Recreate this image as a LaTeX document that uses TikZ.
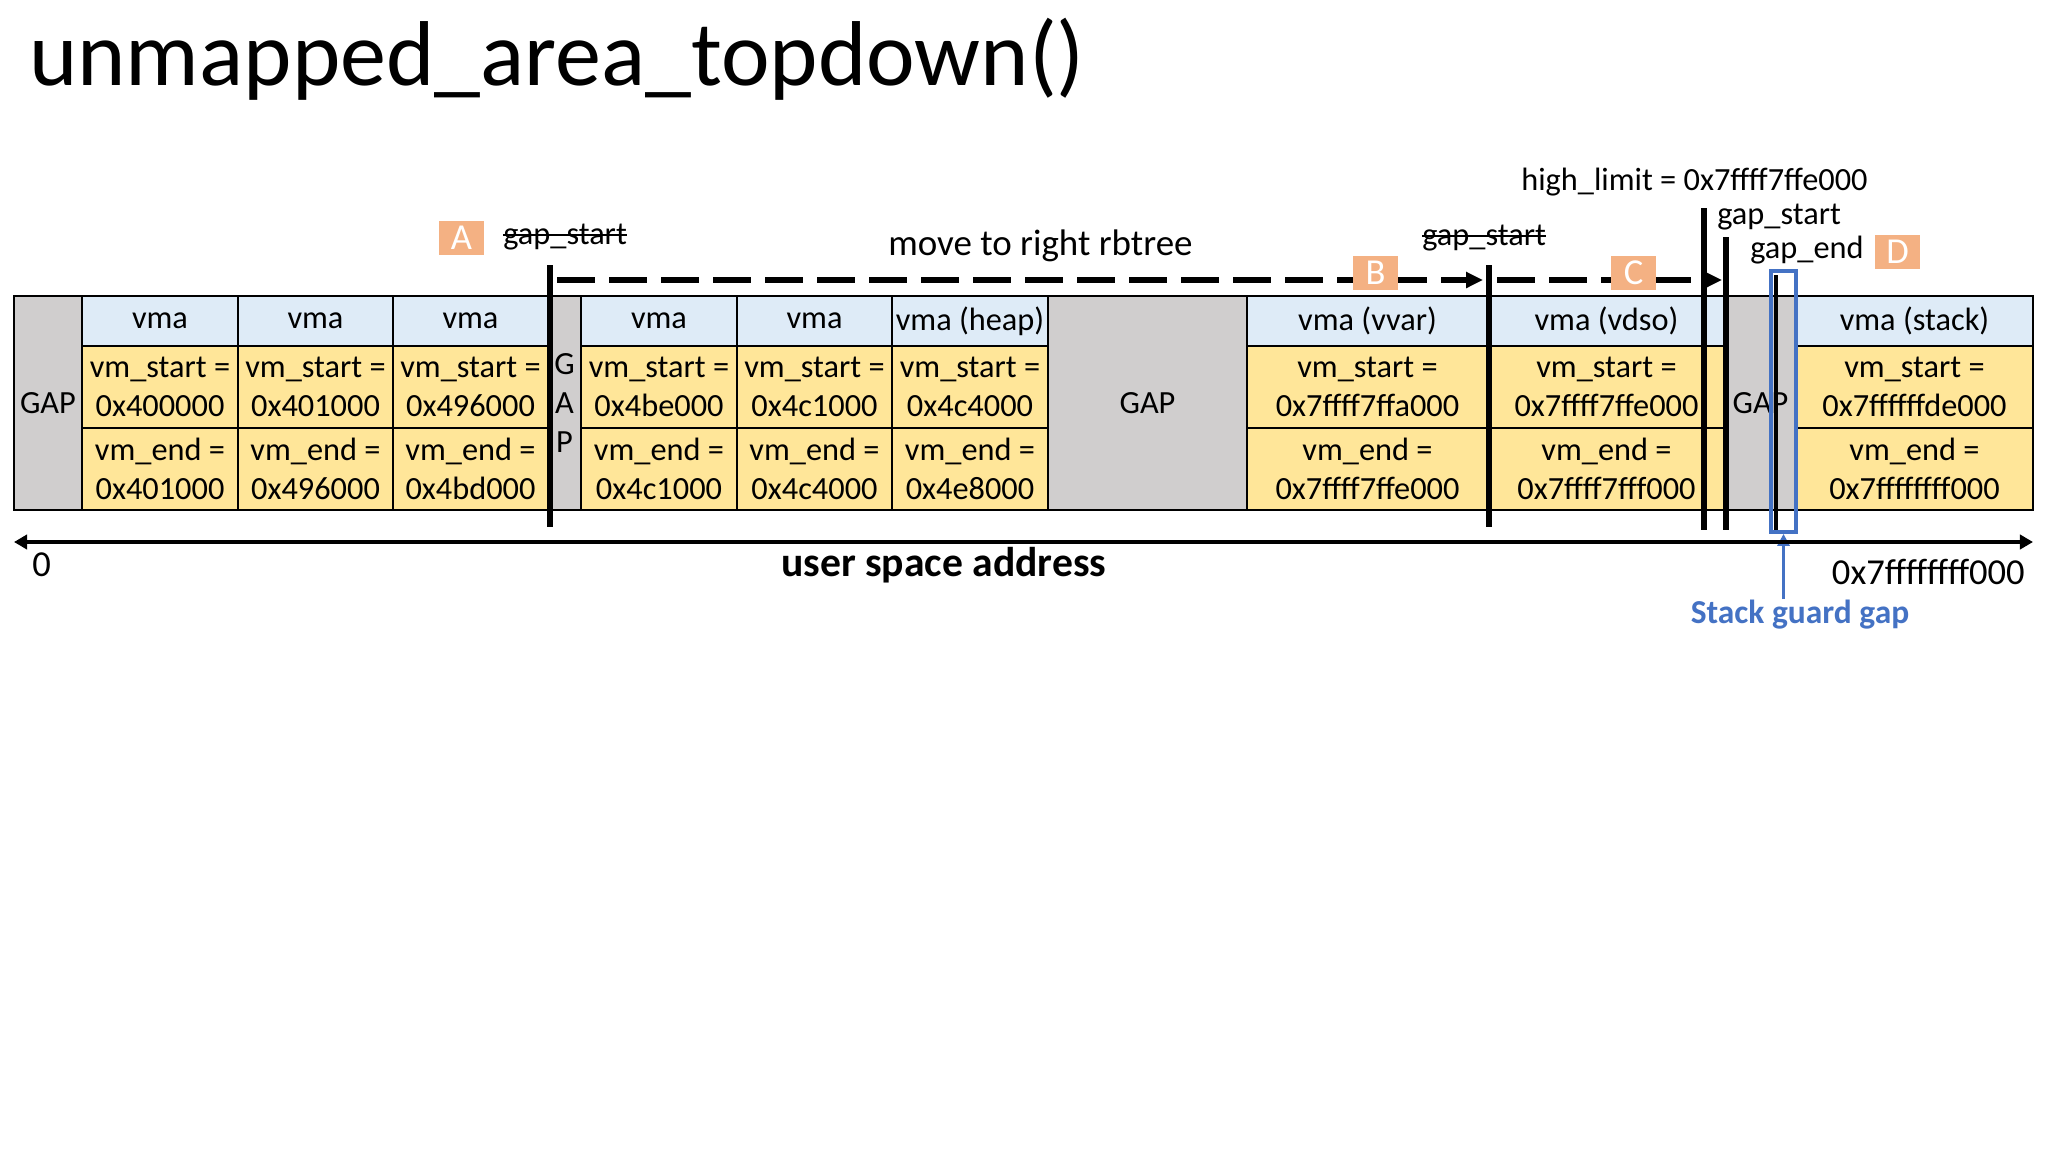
\documentclass[tikz,border=0pt]{standalone}
\usepackage{fontspec}
\setmainfont{Carlito}
\usepackage{tikz}
\usetikzlibrary{arrows.meta, positioning}
\definecolor{hdrblue}{RGB}{222,235,247}
\definecolor{valyellow}{RGB}{255,230,153}
\definecolor{gapgray}{RGB}{208,206,206}
\definecolor{tagorange}{RGB}{244,177,131}
\definecolor{guardblue}{RGB}{68,114,196}
\newcommand{\cellfont}{\fontsize{23}{27.7}\selectfont}
\tikzset{
  cell/.style={rectangle, draw=black, line width=1.5pt, inner sep=0pt, outer sep=0pt,
    align=center, font=\cellfont},
  hdr/.style={cell, fill=hdrblue, minimum height=1.25cm},
  val/.style={cell, fill=valyellow, minimum height=2.05cm},
  gapcell/.style={cell, fill=gapgray, minimum height=5.35cm},
  narrow/.style={minimum width=3.89cm},
  tag/.style={rectangle, fill=tagorange, text=white, minimum width=1.12cm,
    minimum height=0.85cm, inner sep=0pt, font=\fontsize{26}{30}\selectfont},
  lbl/.style={inner sep=0pt, font=\cellfont},
  strike/.style={line width=1.3pt},
  addrline/.style={line width=4.3pt, color=black},
  dasharrow/.style={-{Triangle[length=0.42cm, width=0.38cm]}, line width=3.6pt,
    dash pattern=on 0.95cm off 0.35cm},
  axisline/.style={{Triangle[length=0.33cm, width=0.36cm]}-{Triangle[length=0.33cm, width=0.36cm]},
    line width=2.8pt},
  guardarrow/.style={-{Triangle[length=0.3cm, width=0.3cm]}, line width=2.1pt, color=guardblue}
}

\begin{document}
\begin{tikzpicture}[x=0.025cm, y=-0.025cm]
  \fill[white] (0,0) rectangle (2048,1152);
  \useasboundingbox (0,0) rectangle (2048,1152);

  \node[anchor=base west, inner sep=0pt, font=\fontsize{65.5}{70}\selectfont] (title) at (29,85) {unmapped\_area\_topdown()};

  % --- LOW VMAS ---
  \node[gapcell, minimum width=1.7cm] (gap1) at (48,403) {GAP};

  \node[hdr, narrow] (h1) at (160,321) {vma};
  \node[val, narrow] (s1) at (160,387) {vm\_start =\\0x400000};
  \node[val, narrow] (e1) at (160,469) {vm\_end =\\0x401000};

  \node[hdr, narrow] (h2) at (315.5,321) {vma};
  \node[val, narrow] (s2) at (315.5,387) {vm\_start =\\0x401000};
  \node[val, narrow] (e2) at (315.5,469) {vm\_end =\\0x496000};

  \node[hdr, narrow] (h3) at (470.5,321) {vma};
  \node[val, narrow] (s3) at (470.5,387) {vm\_start =\\0x496000};
  \node[val, narrow] (e3) at (470.5,469) {vm\_end =\\0x4bd000};

  \node[gapcell, minimum width=0.825cm] (gap2) at (564.5,403) {G\\A\\P};

  \node[hdr, narrow] (h4) at (659,321) {vma};
  \node[val, narrow] (s4) at (659,387) {vm\_start =\\0x4be000};
  \node[val, narrow] (e4) at (659,469) {vm\_end =\\0x4c1000};

  \node[hdr, narrow] (h5) at (814.5,321) {vma};
  \node[val, narrow] (s5) at (814.5,387) {vm\_start =\\0x4c1000};
  \node[val, narrow] (e5) at (814.5,469) {vm\_end =\\0x4c4000};

  \node[hdr, narrow] (hheap) at (970,321) {vma (heap)};
  \node[val, narrow] (sheap) at (970,387) {vm\_start =\\0x4c4000};
  \node[val, narrow] (eheap) at (970,469) {vm\_end =\\0x4e8000};

  % --- HIGH VMAS ---
  \node[gapcell, minimum width=4.975cm] (gap3) at (1147.5,403) {GAP};

  \node[hdr, minimum width=6.025cm] (hvvar) at (1367.5,321) {vma (vvar)};
  \node[val, minimum width=6.025cm] (svvar) at (1367.5,387) {vm\_start =\\0x7ffff7ffa000};
  \node[val, minimum width=6.025cm] (evvar) at (1367.5,469) {vm\_end =\\0x7ffff7ffe000};

  \node[hdr, minimum width=5.925cm] (hvdso) at (1606.5,321) {vma (vdso)};
  \node[val, minimum width=5.925cm] (svdso) at (1606.5,387) {vm\_start =\\0x7ffff7ffe000};
  \node[val, minimum width=5.925cm] (evdso) at (1606.5,469) {vm\_end =\\0x7ffff7fff000};

  \node[gapcell, minimum width=1.775cm] (gap4) at (1760.5,403) {GAP};

  \node[hdr, minimum width=5.925cm] (hstack) at (1914.5,321) {vma (stack)};
  \node[val, minimum width=5.925cm] (sstack) at (1914.5,387) {vm\_start =\\0x7ffffffde000};
  \node[val, minimum width=5.925cm] (estack) at (1914.5,469) {vm\_end =\\0x7ffffffff000};

  % --- SEARCH MARKERS ---
  \draw[addrline] (550,265) -- (550,527);
  \draw[addrline] (1489,265) -- (1489,527);
  \draw[addrline] (1704,208) -- (1704,530);
  \draw[addrline] (1726,237) -- (1726,530);
  \draw[line width=3pt] (1776,275) -- (1776,530);

  \coordinate (walk0) at (557,280);
  \coordinate (walk1) at (1483,280);
  \coordinate (walk2) at (1497,280);
  \coordinate (walk3) at (1722,280);
  \draw[dasharrow] (walk0) -- (walk1);
  \draw[dasharrow] (walk2) -- (walk3);

  \node[tag] (tagA) at (461.5,238) {A};
  \node[tag] (tagB) at (1375.5,272.5) {B};
  \node[tag] (tagC) at (1633.5,272.5) {C};
  \node[tag] (tagD) at (1897.5,251.5) {D};

  \node[lbl, anchor=base west] (oldstartA) at (503,244) {gap\_start};
  \draw[strike] ([yshift=0.22cm]oldstartA.base west) -- ([yshift=0.22cm]oldstartA.base east);
  \node[lbl, anchor=base west] (oldstartB) at (1422,245) {gap\_start};
  \draw[strike] ([yshift=0.22cm]oldstartB.base west) -- ([yshift=0.22cm]oldstartB.base east);
  \node[lbl, anchor=base west, font=\fontsize{26.3}{31}\selectfont] (walk) at (888,255) {move to right rbtree};
  \node[lbl, anchor=base west] (hlimit) at (1521,190) {high\_limit = 0x7ffff7ffe000};
  \node[lbl, anchor=base west] (gstart) at (1717,224) {gap\_start};
  \node[lbl, anchor=base west] (gend) at (1750,258) {gap\_end};

  % --- STACK GUARD GAP ---
  \node[rectangle, draw=guardblue, line width=2.6pt, minimum width=0.625cm,
    minimum height=6.525cm, inner sep=0pt] (guard) at (1783.5,401.5) {};
  \node[lbl, anchor=base, font=\bfseries\fontsize{23.8}{28}\selectfont, text=guardblue] (guardlbl) at (1800,623) {Stack guard gap};
  \draw[guardarrow] (guard.south |- guardlbl.north) -- (guard.south);

  % --- ADDRESS AXIS ---
  \coordinate (addr0) at (14,542);
  \coordinate (addrmax) at (2033,542);
  \draw[axisline] (addr0) -- (addrmax);
  \node[lbl, anchor=base west, font=\fontsize{26}{31}\selectfont] (zero) at (32,576) {0};
  \node[lbl, anchor=base west, font=\bfseries\fontsize{29.6}{35}\selectfont] (uspace) at (781,576) {user space address};
  \node[lbl, anchor=base east, font=\fontsize{26}{31}\selectfont] (topaddr) at (2025,584) {0x7ffffffff000};
\end{tikzpicture}
\end{document}
